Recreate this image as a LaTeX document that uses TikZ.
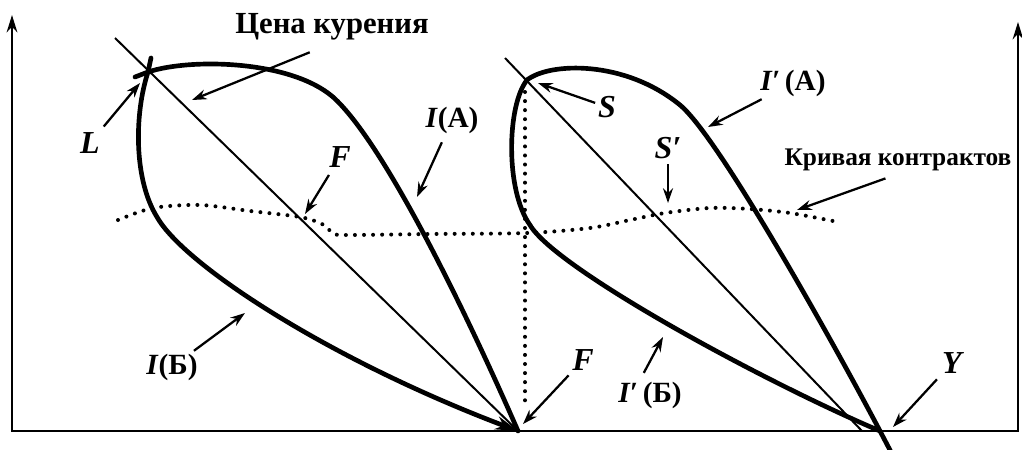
\documentclass[tikz,border=0pt]{standalone}
\usepackage{fontspec}
\setmainfont{Liberation Serif}
\usetikzlibrary{arrows, arrows.meta, positioning}

\begin{document}
\begin{tikzpicture}[x=0.75pt, y=-0.75pt, >={Stealth[length=11pt,width=7.5pt]},
  lens/.style={line width=3.5pt, line cap=round, line join=round},
  diag/.style={line width=1.5pt},
  frame/.style={line width=1.8pt, {Stealth[length=13pt,width=8pt]}-{Stealth[length=13pt,width=8pt]}},
  contract/.style={line width=3pt, line cap=round, dash pattern=on 0pt off 6.8pt},
  pointer/.style={->, line width=1.7pt},
  letter/.style={font=\fontsize{24}{24}\selectfont\bfseries\itshape, inner sep=2pt},
  curvename/.style={font=\fontsize{22}{22}\selectfont\bfseries\itshape, inner sep=2pt},
  heading/.style={font=\fontsize{23}{23}\selectfont\bfseries, inner sep=2pt}]

  \useasboundingbox (0,0) rectangle (1022,450);

  % Точки
  \coordinate (L) at (148,72);
  \coordinate (F) at (518,431);
  \coordinate (S) at (527,80);
  \coordinate (Y) at (880,431);
  \coordinate (dl) at (115,38);
  \coordinate (dr) at (505,58);
  \coordinate (dre) at (862,431);
  \coordinate (vtop) at (525,92);
  \coordinate (vbot) at (525,405);

  % Оси
  \coordinate (ytl) at (12,15);
  \coordinate (o1) at (12,431);
  \coordinate (o2) at (1018,431);
  \coordinate (ytr) at (1018,22);
  \draw[frame] (ytl) -- (o1) -- (o2) -- (ytr);

  % Левая линза
  \draw[diag] (dl) -- (F);
  \draw[lens] (135,77) -- (L) .. controls (190,58) and (290,60) .. (333,97)
    .. controls (383,142) and (463,305) .. (F);
  \draw[lens, -{Stealth[length=17pt,width=10pt]}] (151,58) -- (L)
    .. controls (134,115) and (134,180) .. (157,217)
    .. controls (184,265) and (330,360) .. (F);

  % Правая линза
  \draw[diag] (dr) -- (dre);
  \draw[lens] (S) .. controls (550,62) and (625,60) .. (680,105)
    .. controls (720,138) and (840,355) .. (Y) -- (891,452);
  \draw[lens] (S) .. controls (507,105) and (505,190) .. (530,225)
    .. controls (555,268) and (760,380) .. (Y);

  % Кривая контрактов
  \draw[contract] (vtop) -- (vbot);
  \draw[contract] plot[smooth] coordinates {(118,220) (153,208) (200,205) (250,211) (300,217) (322,224) (333,233) (345,235) (430,234) (527,233) (590,228) (630,220) (665,213) (710,208) (750,209) (790,213) (833,221)};

  % Подписи
  \node[heading] (cena) at (332,27) {Цена курения};
  \node[heading, font=\fontsize{19}{19}\selectfont\bfseries] (kriv) at (898,160) {Кривая контрактов};
  \node[letter] (lblL) at (90,143) {L};
  \node[letter] (lblF) at (340,157) {F};
  \node[curvename] (lblIA) at (452,120) {I\textup{(А)}};
  \node[curvename] (lblIB) at (172,367) {I\textup{(Б)}};
  \node[letter] (lblF2) at (583,360) {F};
  \node[letter] (lblS) at (607,107) {S};
  \node[letter] (lblSp) at (668,148) {S′};
  \node[curvename] (lblIpA) at (793,83) {I′\,\textup{(А)}};
  \node[curvename] (lblIpB) at (650,395) {I′\,\textup{(Б)}};
  \node[letter] (lblY) at (952,363) {Y};

  % Концы стрелок
  \coordinate (tCena) at (192,100);
  \coordinate (tKriv) at (797,210);
  \coordinate (tL) at (140,83);
  \coordinate (tF) at (305,214);
  \coordinate (tIA) at (417,197);
  \coordinate (tIB) at (245,313);
  \coordinate (tF2) at (523,424);
  \coordinate (tS) at (538,83);
  \coordinate (tSp) at (668,203);
  \coordinate (tIpA) at (708,127);
  \coordinate (tIpB) at (663,337);
  \coordinate (tY) at (893,427);

  % Стрелки к подписям
  \draw[pointer, shorten <=18pt] (cena.south) -- (tCena);
  \draw[pointer, shorten <=10pt] (kriv.south) -- (tKriv);
  \draw[pointer, shorten <=3pt] (lblL) -- (tL);
  \draw[pointer, shorten <=4pt] (lblF) -- (tF);
  \draw[pointer, shorten <=5pt] (lblIA) -- (tIA);
  \draw[pointer] (lblIB) -- (tIB);
  \draw[pointer, shorten <=2pt] (lblF2) -- (tF2);
  \draw[pointer] (lblS) -- (tS);
  \draw[pointer, shorten <=2pt] (lblSp) -- (tSp);
  \draw[pointer] (lblIpA) -- (tIpA);
  \draw[pointer, shorten <=5pt] (lblIpB.120) -- (tIpB);
  \draw[pointer, shorten <=3pt] (lblY) -- (tY);
\end{tikzpicture}
\end{document}
